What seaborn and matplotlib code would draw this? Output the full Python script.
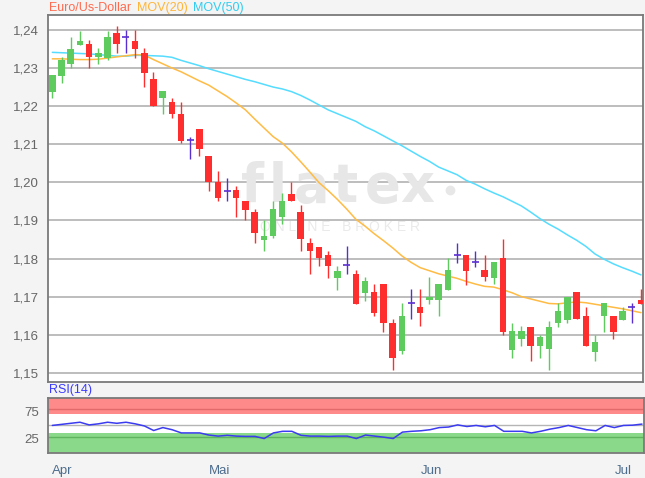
import numpy as np
import pandas as pd
import matplotlib
matplotlib.use("Agg")
import matplotlib.pyplot as plt
import seaborn as sns

# daily EUR/USD candles, 2018-04-06 .. 2018-07-05
opens = [1.2238, 1.2279, 1.2310, 1.2361, 1.2362, 1.2330, 1.2327, 1.2391, 1.2381, 1.2372,
         1.2340, 1.2271, 1.2221, 1.2212, 1.2180, 1.2111, 1.2139, 1.2070, 1.2002, 1.1978,
         1.1980, 1.1952, 1.1921, 1.1849, 1.1859, 1.1910, 1.1970, 1.1921, 1.1842, 1.1831,
         1.1810, 1.1748, 1.1782, 1.1760, 1.1709, 1.1711, 1.1733, 1.1632, 1.1558, 1.1683,
         1.1672, 1.1690, 1.1690, 1.1718, 1.1810, 1.1810, 1.1792, 1.1770, 1.1749, 1.1801,
         1.1559, 1.1589, 1.1621, 1.1571, 1.1562, 1.1630, 1.1639, 1.1711, 1.1650, 1.1556,
         1.1648, 1.1650, 1.1639, 1.1672, 1.1691]
highs = [1.2282, 1.2330, 1.2381, 1.2398, 1.2374, 1.2352, 1.2398, 1.2409, 1.2400, 1.2400,
         1.2352, 1.2289, 1.2240, 1.2221, 1.2210, 1.2120, 1.2139, 1.2070, 1.2030, 1.2011,
         1.1991, 1.1952, 1.1930, 1.1900, 1.1952, 1.1971, 1.2002, 1.1941, 1.1853, 1.1831,
         1.1820, 1.1781, 1.1833, 1.1770, 1.1751, 1.1733, 1.1733, 1.1641, 1.1683, 1.1720,
         1.1720, 1.1751, 1.1733, 1.1801, 1.1842, 1.1810, 1.1821, 1.1810, 1.1792, 1.1851,
         1.1630, 1.1623, 1.1621, 1.1600, 1.1635, 1.1683, 1.1700, 1.1711, 1.1672, 1.1600,
         1.1683, 1.1650, 1.1672, 1.1683, 1.1720]
lows = [1.2221, 1.2260, 1.2300, 1.2361, 1.2300, 1.2310, 1.2321, 1.2339, 1.2339, 1.2327,
        1.2249, 1.2200, 1.2179, 1.2170, 1.2103, 1.2062, 1.2069, 1.1978, 1.1950, 1.1951,
        1.1909, 1.1901, 1.1840, 1.1820, 1.1853, 1.1891, 1.1950, 1.1820, 1.1760, 1.1781,
        1.1748, 1.1718, 1.1759, 1.1680, 1.1689, 1.1648, 1.1608, 1.1508, 1.1549, 1.1641,
        1.1622, 1.1680, 1.1648, 1.1718, 1.1789, 1.1731, 1.1779, 1.1740, 1.1733, 1.1600,
        1.1540, 1.1571, 1.1531, 1.1540, 1.1508, 1.1621, 1.1630, 1.1641, 1.1571, 1.1530,
        1.1608, 1.1588, 1.1639, 1.1630, 1.1681]
closes = [1.2282, 1.2321, 1.2350, 1.2372, 1.2330, 1.2340, 1.2381, 1.2362, 1.2381, 1.2349,
          1.2288, 1.2201, 1.2240, 1.2179, 1.2109, 1.2111, 1.2088, 1.2000, 1.1960, 1.1978,
          1.1960, 1.1928, 1.1868, 1.1860, 1.1930, 1.1952, 1.1950, 1.1851, 1.1820, 1.1801,
          1.1781, 1.1768, 1.1782, 1.1680, 1.1741, 1.1658, 1.1630, 1.1540, 1.1650, 1.1683,
          1.1658, 1.1700, 1.1733, 1.1770, 1.1810, 1.1768, 1.1792, 1.1751, 1.1792, 1.1608,
          1.1611, 1.1610, 1.1571, 1.1593, 1.1621, 1.1661, 1.1700, 1.1641, 1.1571, 1.1582,
          1.1683, 1.1608, 1.1661, 1.1672, 1.1681]

mov20 = [1.2324, 1.2324, 1.2323, 1.2322, 1.2322, 1.2323, 1.2326, 1.2329, 1.2332, 1.2335,
         1.2334, 1.2322, 1.2311, 1.2300, 1.2290, 1.2278, 1.2266, 1.2255, 1.2240, 1.2225,
         1.2208, 1.2190, 1.2166, 1.2143, 1.2120, 1.2103, 1.2080, 1.2054, 1.2027, 1.1999,
         1.1978, 1.1955, 1.1930, 1.1903, 1.1885, 1.1865, 1.1847, 1.1828, 1.1807, 1.1790,
         1.1776, 1.1768, 1.1760, 1.1754, 1.1748, 1.1740, 1.1733, 1.1727, 1.1725, 1.1718,
         1.1710, 1.1700, 1.1694, 1.1688, 1.1682, 1.1681, 1.1684, 1.1686, 1.1684, 1.1680,
         1.1676, 1.1672, 1.1668, 1.1663, 1.1658]
mov50 = [1.2341, 1.2340, 1.2339, 1.2338, 1.2337, 1.2335, 1.2333, 1.2331, 1.2331, 1.2333,
         1.2333, 1.2332, 1.2331, 1.2328, 1.2320, 1.2313, 1.2306, 1.2298, 1.2291, 1.2284,
         1.2277, 1.2270, 1.2264, 1.2257, 1.2250, 1.2245, 1.2238, 1.2228, 1.2216, 1.2203,
         1.2190, 1.2180, 1.2170, 1.2160, 1.2146, 1.2135, 1.2122, 1.2109, 1.2096, 1.2082,
         1.2068, 1.2055, 1.2040, 1.2030, 1.2020, 1.2005, 1.1995, 1.1983, 1.1972, 1.1962,
         1.1950, 1.1938, 1.1922, 1.1905, 1.1890, 1.1877, 1.1862, 1.1848, 1.1832, 1.1812,
         1.1798, 1.1786, 1.1776, 1.1767, 1.1757]
rsi14 = [49, 51, 53, 55, 50, 52, 55, 53, 55, 52,
         48, 39.5, 45, 41, 35, 35, 35, 31, 29, 30.5,
         29, 28.5, 28.5, 24.5, 35, 38, 38, 30.5, 29, 29,
         28.5, 29, 29, 24.5, 31, 29, 27, 24.5, 36.5, 38,
         39, 41, 45, 46, 50, 47, 49, 46.5, 49, 38,
         38, 38, 35, 38, 42, 45, 49, 45, 41, 39,
         49, 45, 49, 49.5, 51.5]

month_names = ["Apr", "Mai", "Jun", "Jul"]
price_ticks = [1.15, 1.16, 1.17, 1.18, 1.19, 1.20, 1.21, 1.22, 1.23, 1.24]
rsi_ticks = [25, 75]

dates = pd.bdate_range("2018-04-06", "2018-07-05")
df = pd.DataFrame({"date": dates, "open": opens, "high": highs, "low": lows,
                   "close": closes, "mov20": mov20, "mov50": mov50, "rsi": rsi14})
df["i"] = np.arange(len(df))

UP, DOWN, FLAT = "#5ecb5e", "#ff2e2e", "#5a2fd0"


def candle_color(row):
    if row["close"] > row["open"]:
        return UP
    if row["close"] < row["open"]:
        return DOWN
    return FLAT


df["col"] = df.apply(candle_color, axis=1)

sns.set_style("white")
plt.rcParams["font.family"] = ["Liberation Sans", "DejaVu Sans"]

W, H = 645, 478
fig = plt.figure(figsize=(W / 100, H / 100), dpi=100, facecolor="#f4f4f4")
ax = fig.add_axes([48 / W, 1 - 382 / H, 595 / W, 367 / H])
rax = fig.add_axes([48 / W, 1 - 453 / H, 596 / W, 55.5 / H])

# --- price panel ---
ax.set_facecolor("white")
ax.set_axisbelow(True)
ax.set_xlim(-0.47, 64.22)
ax.set_ylim(1.1476, 1.2439)
ax.set_yticks(price_ticks)
ax.set_yticklabels([f"{t:.2f}".replace(".", ",") for t in price_ticks])
ax.set_xticks([])
ax.grid(axis="y", color="#b2b2b2", lw=1.2)
ax.tick_params(axis="y", length=0, pad=6.5, labelsize=9.5, labelcolor="#666666")
for s in ax.spines.values():
    s.set_color("#7a7a7a")
    s.set_linewidth(1.3)

# watermark
wm = dict(transform=ax.transAxes, color="#e7e7e7", fontsize=38, weight="bold",
          ha="center", va="baseline", family="DejaVu Sans", zorder=0.8)
for ch, px in zip("flatex", [252, 278, 312, 345, 383, 417]):
    ax.text((px - 48) / 595, (382 - 202) / 367, ch, **wm)
ax.plot([(450 - 48) / 595], [(382 - 190) / 367], "o", ms=6, color="#e7e7e7",
        transform=ax.transAxes, zorder=0.8)
ax.text((340 - 48) / 595, (382 - 227) / 367, "O N L I N E   B R O K E R",
        transform=ax.transAxes, color="#eaeaea", fontsize=10, ha="center",
        va="center", zorder=0.8)

sns.lineplot(data=df, x="i", y="mov50", ax=ax, color="#55dcff", lw=1.1, zorder=2)
sns.lineplot(data=df, x="i", y="mov20", ax=ax, color="#ffbb44", lw=1.1, zorder=2)

ax.vlines(df["i"], df["low"], df["high"], colors=df["col"], lw=1.0, zorder=3)
body_lo = df[["open", "close"]].min(axis=1)
body_h = (df["close"] - df["open"]).abs()
ax.bar(df["i"], body_h, bottom=body_lo, width=0.7, color=df["col"], lw=0, zorder=4)
doji = df[df["col"] == FLAT]
ax.hlines(doji["open"], doji["i"] - 0.38, doji["i"] + 0.38, colors=FLAT, lw=1.2, zorder=4)
ax.set_xlabel("")
ax.set_ylabel("")

fig.text(49 / W, 1 - 8 / H, "Euro/Us-Dollar", color="#ff6b4f", fontsize=9, va="center")
fig.text(137 / W, 1 - 8 / H, "MOV(20)", color="#ffb53a", fontsize=9, va="center")
fig.text(193 / W, 1 - 8 / H, "MOV(50)", color="#33ccf0", fontsize=9, va="center")

# --- RSI panel ---
rax.set_facecolor("white")
rax.set_xlim(-0.47, 64.22)
rax.set_ylim(-2.6, 101.3)
rax.axhspan(71, 102, color="#ff8a8a", lw=0, zorder=0)
rax.axhline(80, color="#e26a6a", lw=1.0, zorder=0.5)
rax.axhspan(-3, 34, color="#8ad88a", lw=0, zorder=0)
rax.axhline(27, color="#5fb55f", lw=1.0, zorder=0.5)
rax.axhline(50, color="#b5b5b5", lw=1.0, zorder=0.5)
sns.lineplot(data=df, x="i", y="rsi", ax=rax, color="#3b3bf0", lw=1.1, zorder=3)
rax.set_yticks(rsi_ticks)
rax.set_yticklabels([str(t) for t in rsi_ticks])
rax.tick_params(axis="y", length=0, pad=6.5, labelsize=9.5, labelcolor="#666666")

month_start = df.groupby(df["date"].dt.month)["i"].min().tolist()
rax.set_xticks(month_start)
rax.set_xticklabels(month_names, ha="left")
rax.tick_params(axis="x", length=4, width=1, color="#4d6d8d", labelcolor="#4d6d8d",
                labelsize=9.5, pad=4.5)
rax.set_xlabel("")
rax.set_ylabel("")
for s in rax.spines.values():
    s.set_color("#7a7a7a")
    s.set_linewidth(1.3)
fig.text(49 / W, 1 - 390 / H, "RSI(14)", color="#3a3aff", fontsize=9, va="center")

fig.savefig("out.png", dpi=100, facecolor=fig.get_facecolor())
